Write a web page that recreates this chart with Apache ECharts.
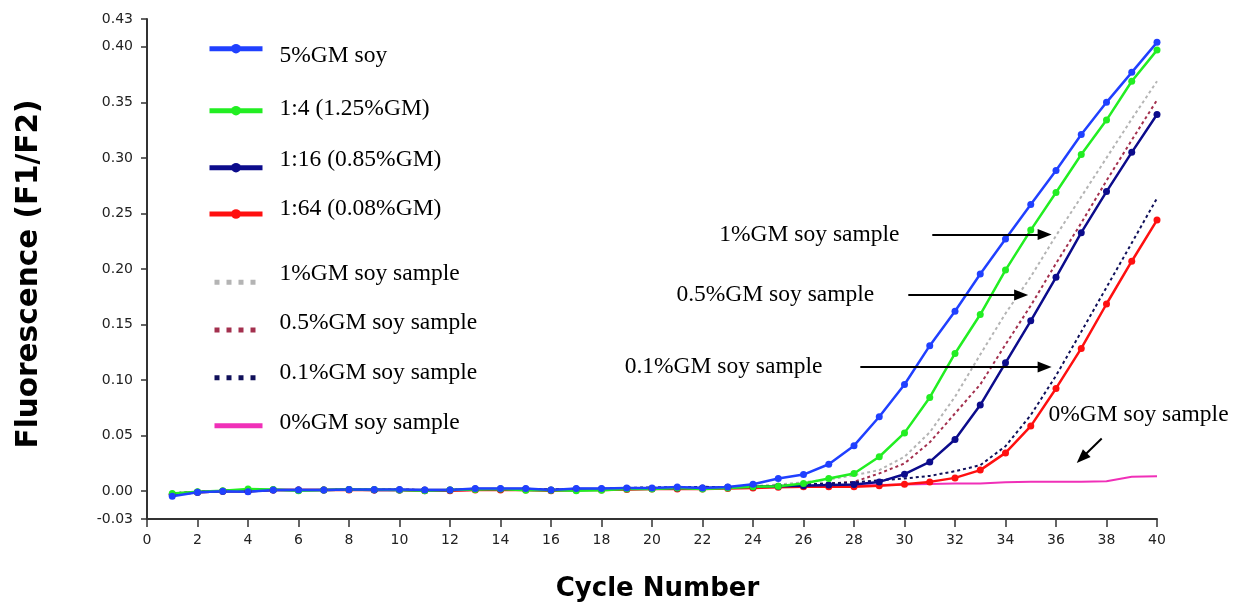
<!DOCTYPE html>
<html lang="en">
<head>
<meta charset="UTF-8" />
<title>Fluorescence vs cycle number</title>
<script type="text/javascript" src="https://cdn.jsdelivr.net/npm/echarts@6/dist/echarts.min.js"></script>
<style>
    html, body { margin: 0; padding: 0; background: #fff; }
</style>
</head>
<body>
<!-- chart container -->
<div id="main" style="width: 1247px; height: 603px;"></div>
<script type="text/javascript">
    // cycle numbers (x)
    var cycles = [1, 2, 3, 4, 5, 6, 7, 8, 9, 10, 11, 12, 13, 14, 15, 16, 17, 18, 19, 20,
                  21, 22, 23, 24, 25, 26, 27, 28, 29, 30, 31, 32, 33, 34, 35, 36, 37, 38, 39, 40];

    var names = ['5%GM soy', '1:4 (1.25%GM)', '1:16 (0.85%GM)', '1:64 (0.08%GM)',
                 '1%GM soy sample', '0.5%GM soy sample', '0.1%GM soy sample', '0%GM soy sample'];

    // fluorescence F1/F2 per cycle
    var gm5 = [-0.0045, -0.001, 0.000, -0.0005, 0.001, 0.001, 0.001, 0.0015, 0.0015, 0.0015,
               0.001, 0.001, 0.0024, 0.0024, 0.0024, 0.001, 0.0024, 0.0024, 0.0028, 0.003,
               0.0039, 0.003, 0.0039, 0.0063, 0.0114, 0.015, 0.0243, 0.041, 0.067, 0.096,
               0.131, 0.162, 0.1955, 0.227, 0.258, 0.2886, 0.321, 0.350, 0.377, 0.404];
    var dil4 = [-0.002, -0.0005, 0.0005, 0.002, 0.0015, 0.0005, 0.001, 0.0015, 0.0015, 0.001,
                0.0005, 0.001, 0.0015, 0.002, 0.0008, 0.0008, 0.0005, 0.0008, 0.002, 0.002,
                0.003, 0.002, 0.003, 0.004, 0.0045, 0.0069, 0.0114, 0.016, 0.031, 0.0525,
                0.0844, 0.124, 0.159, 0.199, 0.235, 0.2688, 0.303, 0.334, 0.369, 0.397];
    var dil16 = [-0.003, -0.001, 0.000, 0.000, 0.001, 0.001, 0.001, 0.0015, 0.001, 0.001,
                 0.001, 0.001, 0.002, 0.002, 0.002, 0.001, 0.002, 0.002, 0.0025, 0.0025,
                 0.003, 0.003, 0.0035, 0.004, 0.0045, 0.005, 0.0055, 0.006, 0.0084, 0.0153,
                 0.0264, 0.0466, 0.0775, 0.1156, 0.1534, 0.1925, 0.2327, 0.2697, 0.305, 0.339];
    var dil64 = [-0.003, -0.001, 0.000, 0.000, 0.001, 0.001, 0.001, 0.001, 0.001, 0.001,
                 0.0005, 0.0005, 0.001, 0.001, 0.001, 0.0005, 0.001, 0.001, 0.0015, 0.002,
                 0.002, 0.002, 0.0025, 0.003, 0.0035, 0.004, 0.004, 0.004, 0.005, 0.0063,
                 0.0084, 0.012, 0.019, 0.0345, 0.0586, 0.0925, 0.1285, 0.1685, 0.207, 0.244];
    var sample1 = [-0.002, -0.0005, 0.0005, 0.001, 0.001, 0.001, 0.001, 0.0015, 0.0015, 0.0015,
                   0.001, 0.001, 0.002, 0.002, 0.002, 0.0015, 0.002, 0.002, 0.0025, 0.003,
                   0.003, 0.003, 0.0035, 0.0045, 0.006, 0.008, 0.0105, 0.0144, 0.019, 0.031,
                   0.053, 0.085, 0.123, 0.160, 0.193, 0.230, 0.265, 0.300, 0.335, 0.369];
    var sample05 = [-0.002, -0.0005, 0.0005, 0.001, 0.001, 0.001, 0.001, 0.0015, 0.0015, 0.0015,
                    0.001, 0.001, 0.002, 0.002, 0.002, 0.0015, 0.002, 0.002, 0.0025, 0.003,
                    0.003, 0.003, 0.0035, 0.004, 0.005, 0.006, 0.007, 0.0084, 0.016, 0.025,
                    0.044, 0.070, 0.096, 0.132, 0.167, 0.205, 0.2414, 0.2795, 0.316, 0.352];
    var sample01 = [-0.002, -0.0005, 0.0005, 0.001, 0.001, 0.001, 0.001, 0.0015, 0.0015, 0.0015,
                    0.001, 0.001, 0.002, 0.002, 0.002, 0.0015, 0.002, 0.002, 0.003, 0.0035,
                    0.0035, 0.004, 0.0035, 0.004, 0.005, 0.006, 0.007, 0.008, 0.0099, 0.0114,
                    0.0138, 0.018, 0.0234, 0.0405, 0.0685, 0.104, 0.1435, 0.1835, 0.2234, 0.2637];
    var sample0 = [-0.002, -0.0005, 0.0005, 0.001, 0.001, 0.001, 0.001, 0.001, 0.001, 0.001,
                   0.0005, 0.0005, 0.001, 0.001, 0.001, 0.0005, 0.001, 0.001, 0.0015, 0.002,
                   0.002, 0.0025, 0.003, 0.004, 0.005, 0.005, 0.005, 0.005, 0.0055, 0.006,
                   0.0065, 0.007, 0.007, 0.008, 0.0085, 0.0085, 0.0085, 0.009, 0.013, 0.0135];

    // y axis tick positions and their printed labels
    var yTickValues = [-0.025, 0, 0.05, 0.10, 0.15, 0.20, 0.25, 0.30, 0.35, 0.40, 0.425];
    var yTickLabels = ['-0.03', '0.00', '0.05', '0.10', '0.15', '0.20', '0.25', '0.30', '0.35', '0.40', '0.43'];

    // arrow annotations: [cycle, F1/F2]
    var annotTexts = ['1%GM soy sample', '0.5%GM soy sample', '0.1%GM soy sample', '0%GM soy sample'];
    var arrowFrom = [[31.1, 0.231], [30.15, 0.1766], [28.25, 0.1117], [37.81, 0.0475]];
    var arrowTo = [[35.55, 0.231], [34.62, 0.1766], [35.55, 0.1117], [37.02, 0.0299]];
    var textAt = [[29.8, 0.231], [28.8, 0.1766], [26.75, 0.1117], [35.7, 0.0685]];

    function toPairs(vals) {
        return cycles.map(function (c, i) { return [c, vals[i]]; });
    }

    var serif = 'Liberation Serif';
    var sans = 'DejaVu Sans';

    var colors = ['#2040ff', '#22ee22', '#0c0c8c', '#ff1010', '#b4b4b4', '#a3304e', '#10105a', '#f030b8'];
    var dottedIdx = [4, 5, 6];

    function solidSeries(i, vals) {
        return {
            name: names[i], type: 'line', data: toPairs(vals), color: colors[i],
            symbol: 'circle', symbolSize: 7, showSymbol: true,
            lineStyle: { width: 2.5 }
        };
    }
    function dottedSeries(i, vals) {
        return {
            name: names[i], type: 'line', data: toPairs(vals), color: colors[i],
            symbol: 'none', lineStyle: { width: 2, type: [3, 3] }
        };
    }

    var annotSeries = {
        name: names[7], type: 'line', data: toPairs(sample0), color: colors[7],
        symbol: 'none', lineStyle: { width: 2 },
        markLine: {
            silent: true,
            symbol: ['none', 'triangle'],
            symbolSize: [11, 14],
            label: { show: false },
            lineStyle: { color: '#000', width: 2, type: 'solid' },
            data: arrowFrom.map(function (p, i) {
                return [{ coord: p }, { coord: arrowTo[i] }];
            })
        },
        markPoint: {
            silent: true,
            symbol: 'circle',
            symbolSize: 0,
            itemStyle: { color: 'rgba(0,0,0,0)' },
            label: {
                show: true, color: '#000', fontFamily: serif, fontSize: 23.5,
                distance: 0, formatter: function (p) { return p.name; }
            },
            data: textAt.map(function (p, i) {
                return {
                    name: annotTexts[i], coord: p,
                    label: { position: i === 3 ? 'right' : 'left' }
                };
            })
        }
    };

    // legend rows: box top and how far the text sits off the icon (+ = lower)
    var legendTop = [35.7, 96.7, 147.7, 197, 262.3, 311, 360.7, 410.7];
    var legendShift = [7, -2, -8, -5, -8, -7, -5, -3];

    var legends = names.map(function (n, i) {
        var dotted = dottedIdx.indexOf(i) > -1;
        var thin = i >= 4;
        var d = legendShift[i];
        return {
            data: [n], orient: 'vertical', padding: 0, itemGap: 0,
            left: thin ? 212 : 207, top: legendTop[i],
            itemWidth: thin ? 48 : 53, itemHeight: 12,
            selectedMode: false,
            formatter: function (name) {
                return d > 0 ? '{s| }\n{t|' + name + '}' : '{t|' + name + '}\n{s| }';
            },
            textStyle: {
                fontFamily: serif, fontSize: 23.5, color: '#000',
                padding: [0, 0, 0, 12],
                rich: {
                    t: { fontFamily: serif, fontSize: 23.5, lineHeight: 24, color: '#000' },
                    s: { fontSize: 2, lineHeight: Math.abs(d) * 2 }
                }
            },
            itemStyle: thin ? { opacity: 0 } : {},
            lineStyle: dotted ? { width: 5, type: [5, 7] } : { width: 5 }
        };
    });

    var myChart = echarts.init(document.getElementById('main'));
    var options = {
        animation: false,
        backgroundColor: '#fff',
        grid: { left: 147, right: 90, top: 19, bottom: 84, outerBoundsMode: 'none' },
        legend: legends,
        xAxis: {
            type: 'value', min: 0, max: 40, interval: 2,
            name: 'Cycle Number', nameLocation: 'middle', nameGap: 57,
            nameTextStyle: { fontFamily: sans, fontWeight: 'bold', fontSize: 26, color: '#000', padding: [0, 0, 0, 11] },
            axisLine: { onZero: false, lineStyle: { color: '#333', width: 2 } },
            axisTick: { length: 8, lineStyle: { color: '#333', width: 1.5 } },
            axisLabel: { fontFamily: sans, fontSize: 14, color: '#222', margin: 14 },
            splitLine: { show: false }
        },
        yAxis: {
            type: 'value', min: -0.025, max: 0.425,
            name: 'Fluorescence (F1/F2)', nameLocation: 'middle', nameGap: 103,
            nameTextStyle: { fontFamily: sans, fontWeight: 'bold', fontSize: 29.5, color: '#000', padding: [0, 10, 0, 0] },
            axisLine: { show: true, lineStyle: { color: '#333', width: 2 } },
            axisTick: { show: true, length: 6, customValues: yTickValues, lineStyle: { color: '#333', width: 1.5 } },
            axisLabel: {
                fontFamily: sans, fontSize: 14, color: '#222', margin: 14,
                customValues: yTickValues,
                formatter: function (v) {
                    for (var i = 0; i < yTickValues.length; i++) {
                        if (Math.abs(yTickValues[i] - v) < 1e-6) return yTickLabels[i];
                    }
                    return '';
                }
            },
            splitLine: { show: false }
        },
        series: [
            annotSeries,
            dottedSeries(4, sample1),
            dottedSeries(5, sample05),
            dottedSeries(6, sample01),
            solidSeries(3, dil64),
            solidSeries(2, dil16),
            solidSeries(1, dil4),
            solidSeries(0, gm5)
        ]
    };
    myChart.setOption(options);
</script>
</body>
</html>
